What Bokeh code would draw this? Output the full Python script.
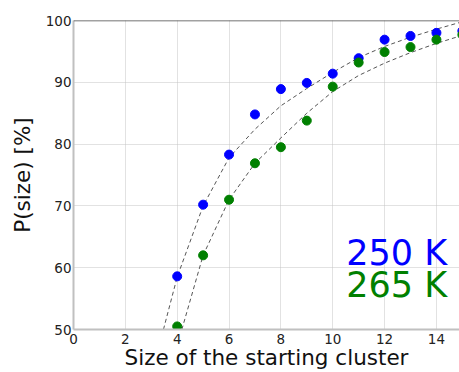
from bokeh.plotting import figure
from bokeh.models import Range1d, FixedTicker, Label, Span
from bokeh.embed import file_html
from bokeh.resources import INLINE

# Data
sizes = [4, 5, 6, 7, 8, 9, 10, 11, 12, 13, 14, 15]
p_250 = [58.6, 70.2, 78.3, 84.8, 88.9, 89.9, 91.4, 93.9, 96.9, 97.5, 98.0, 98.3]
p_265 = [50.5, 62.0, 71.0, 76.9, 79.5, 83.8, 89.3, 93.2, 94.9, 95.7, 96.9, 97.7]

fit_x_250 = [3.47, 4, 5, 6, 7, 8, 9, 10, 11, 12, 13, 14, 15]
fit_p_250 = [50.0, 58.5, 70.0, 77.8, 82.4, 86.2, 89.0, 91.6, 94.0, 95.8, 97.3, 98.6, 99.8]
fit_x_265 = [4.18, 5, 6, 7, 8, 9, 10, 11, 12, 13, 14, 15]
fit_p_265 = [50.0, 62.0, 71.0, 76.9, 81.0, 85.0, 88.5, 91.1, 93.1, 94.8, 96.3, 97.6]

x_ticks = [0, 2, 4, 6, 8, 10, 12, 14]
y_ticks = [50, 60, 70, 80, 90, 100]
series_labels = ["250 K", "265 K"]
series_colors = ["#0000ff", "#008000"]
x_title = "Size of the starting cluster"
y_title = "P(size) [%]"

FONT = "DejaVu Sans"

p = figure(width=459, height=372,
           x_range=Range1d(0, 14.89), y_range=Range1d(50, 100),
           output_backend="svg", toolbar_location=None,
           min_border_left=73, min_border_right=0,
           min_border_top=20, min_border_bottom=43)

p.background_fill_color = "white"
p.border_fill_color = "white"
p.outline_line_color = None

# grid
for g in (p.xgrid, p.ygrid):
    g.grid_line_color = "#c4c4c4"
    g.grid_line_dash = "1 1"
    g.grid_line_width = 1
p.xgrid.ticker = FixedTicker(ticks=x_ticks)
p.ygrid.ticker = FixedTicker(ticks=y_ticks)

# axes
p.xaxis.ticker = FixedTicker(ticks=x_ticks)
p.yaxis.ticker = FixedTicker(ticks=y_ticks)
for ax in (p.xaxis, p.yaxis):
    ax.axis_line_color = "#c0c0c0"
    ax.axis_line_width = 2
    ax.major_tick_line_color = None
    ax.minor_tick_line_color = None
    ax.major_tick_in = 0
    ax.major_tick_out = 0
    ax.major_label_text_font = FONT
    ax.major_label_text_font_size = "13.5px"
    ax.major_label_text_color = "#222222"
    ax.axis_label_text_font = FONT
    ax.axis_label_text_font_size = "21.5px"
    ax.axis_label_text_font_style = "normal"
    ax.axis_label_text_color = "#111111"
p.xaxis.major_label_standoff = 4
p.yaxis.major_label_standoff = 2
p.xaxis.axis_label = x_title
p.xaxis.axis_label_standoff = -2
p.yaxis.axis_label = y_title
p.yaxis.axis_label_standoff = 8

# top spine
p.add_layout(Span(location=100, dimension="width", line_color="#444444", line_width=1.5))

# fitted curves
p.line(fit_x_250, fit_p_250, line_color="#555555", line_dash="4 3", line_width=1)
p.line(fit_x_265, fit_p_265, line_color="#555555", line_dash="4 3", line_width=1)

# data points
p.scatter(sizes, p_250, size=9, fill_color=series_colors[0], line_color=series_colors[0])
p.scatter(sizes, p_265, size=9, fill_color=series_colors[1], line_color=series_colors[1])

# annotations
p.add_layout(Label(x=10.52, y=62.3, text=series_labels[0], text_color=series_colors[0],
                   text_font=FONT, text_font_size="35px", text_baseline="alphabetic"))
p.add_layout(Label(x=10.52, y=57.15, text=series_labels[1], text_color=series_colors[1],
                   text_font=FONT, text_font_size="35px", text_baseline="alphabetic"))

open("out.html", "w").write(file_html(p, INLINE))
